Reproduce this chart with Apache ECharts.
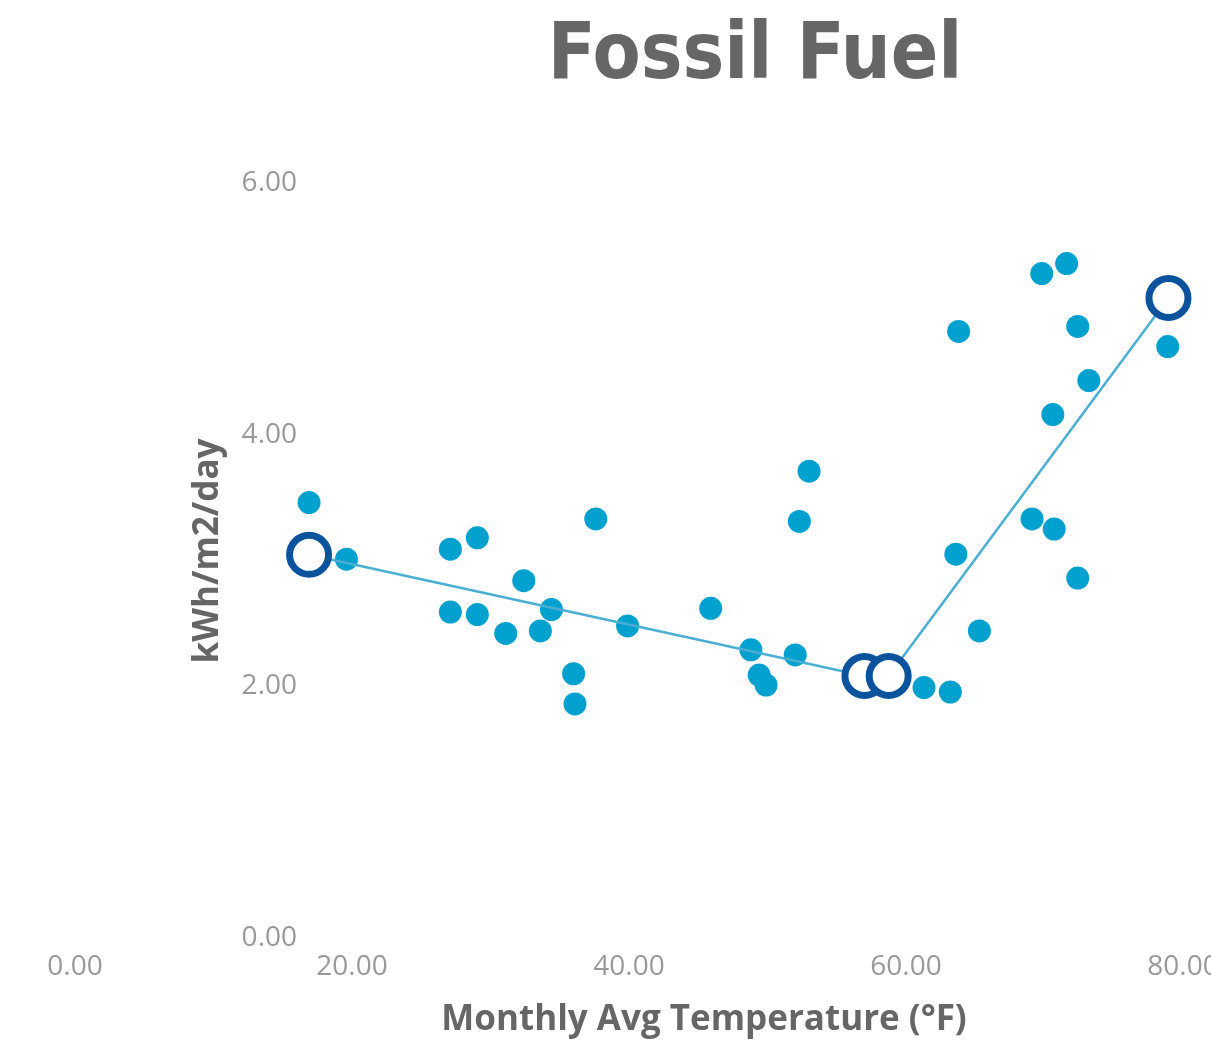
<!DOCTYPE html>
<html><head><meta charset="utf-8">
<script src="https://cdn.jsdelivr.net/npm/echarts@6/dist/echarts.min.js"></script>
<style>html,body{margin:0;padding:0;background:#fff}#c{width:1211px;height:1042px}</style>
</head><body><div id="c"></div>
<script>
const titleText = "Fossil Fuel";
const xTitle = "Monthly Avg Temperature (°F)";
const yTitle = "kWh/m2/day";
const obsTemp = [16.9,19.6,27.1,29.05,27.1,29.05,31.1,32.4,33.6,34.4,36.0,36.1,37.6,39.9,45.9,48.8,49.4,49.9,52.0,52.3,53.0,61.3,63.2,63.6,63.8,65.3,69.1,69.8,70.6,70.7,71.6,72.4,72.4,73.2,78.9];
const obsUse  = [3.46,3.01,3.09,3.18,2.59,2.57,2.42,2.84,2.44,2.61,2.10,1.86,3.33,2.48,2.62,2.29,2.09,2.01,2.25,3.31,3.71,1.99,1.955,3.05,4.82,2.44,3.33,5.28,4.16,3.25,5.36,2.86,4.86,4.43,4.70];
const fitTemp = [16.9,57.0,58.75,78.95];
const fitUse  = [3.045,2.082,2.082,5.086];

const chart = echarts.init(document.getElementById('c'));
const labelFont = {color:'#999999', fontSize:28, fontFamily:'"Open Sans","Noto Sans",sans-serif'};
chart.setOption({
  animation:false,
  backgroundColor:'#ffffff',
  grid:{left:75, right:28, top:183, bottom:104, outerBoundsMode:'none', containLabel:false},
  xAxis:{type:'value', min:0, max:80, interval:20,
    axisLine:{show:false}, axisTick:{show:false}, splitLine:{show:false},
    axisLabel:Object.assign({margin:15, formatter:v=>v.toFixed(2), showMaxLabel:true, hideOverlap:false}, labelFont)},
  yAxis:{type:'value', min:0, max:6, interval:2, offset:-230,
    axisLine:{show:false}, axisTick:{show:false}, splitLine:{show:false},
    axisLabel:Object.assign({margin:8, padding:[5,0,0,0], formatter:v=>v.toFixed(2)}, labelFont)},
  series:[
    {type:'scatter', z:2, symbolSize:23, itemStyle:{color:'#00A0CF', opacity:1},
     data:obsTemp.map((t,i)=>[t,obsUse[i]])},
    {type:'line', z:3, symbol:'none', lineStyle:{color:'#4BAFD3', width:2.5},
     data:fitTemp.map((t,i)=>[t,fitUse[i]])},
    {type:'scatter', z:4, symbolSize:39, itemStyle:{color:'#ffffff', borderColor:'#0B539C', borderWidth:7, opacity:1},
     data:fitTemp.map((t,i)=>[t,fitUse[i]])}
  ],
  graphic:[
    {type:'text', x:755, y:58, style:{text:titleText, x:0, y:0, textAlign:'center', textVerticalAlign:'middle',
      font:'bold 78px "DejaVu Sans Condensed","DejaVu Sans",sans-serif', fill:'#666666'}},
    {type:'text', x:704, y:1020, style:{text:xTitle, x:0, y:0, textAlign:'center', textVerticalAlign:'middle',
      font:'bold 35px "Open Sans","Noto Sans",sans-serif', fill:'#666666'}},
    {type:'text', rotation:Math.PI/2, x:208, y:551, style:{text:yTitle, x:0, y:0, textAlign:'center', textVerticalAlign:'middle',
      font:'bold 35px "Open Sans","Noto Sans",sans-serif', fill:'#666666'}}
  ]
});
</script></body></html>
